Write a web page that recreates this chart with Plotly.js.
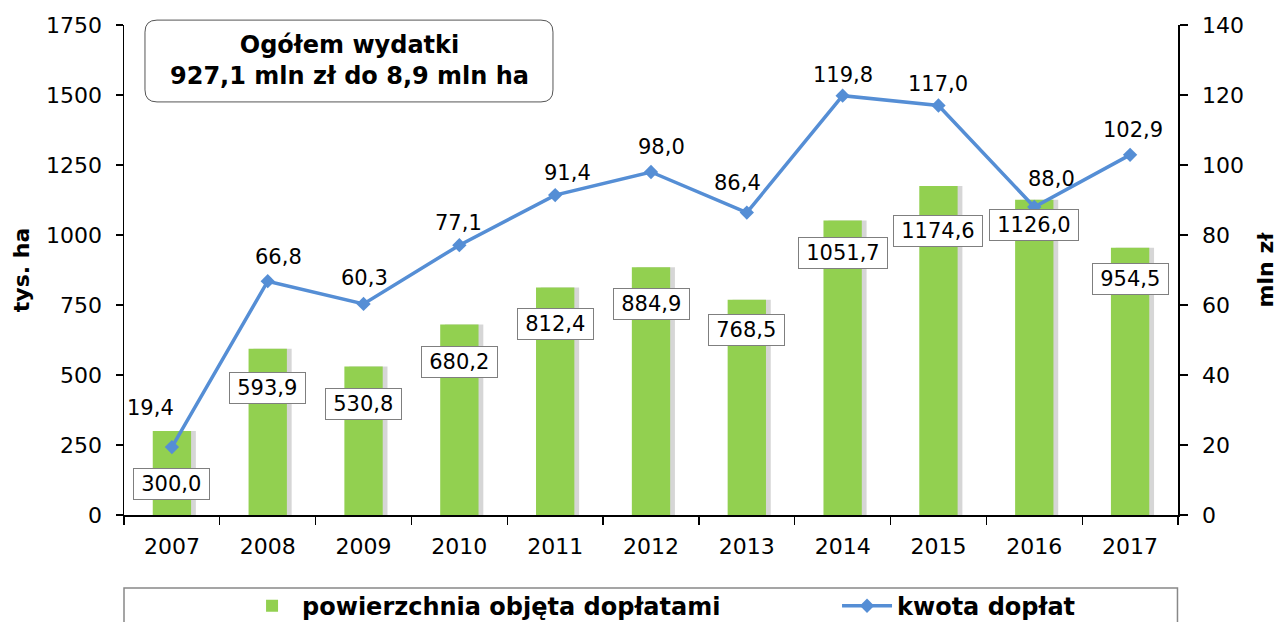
<!DOCTYPE html>
<html>
<head>
<meta charset="utf-8">
<script src="https://cdn.plot.ly/plotly-3.0.1.min.js"></script>
<style>html,body{margin:0;padding:0;background:#fff;}#chart{width:1284px;height:622px;}</style>
</head>
<body>
<div id="chart"></div>
<script>
// ---- data ----
const years = ['2007','2008','2009','2010','2011','2012','2013','2014','2015','2016','2017'];
const areaThousandHa = [300.0, 593.9, 530.8, 680.2, 812.4, 884.9, 768.5, 1051.7, 1174.6, 1126.0, 954.5];
const amountMlnZl = [19.4, 66.8, 60.3, 77.1, 91.4, 98.0, 86.4, 119.8, 117.0, 88.0, 102.9];
const seriesNames = ['powierzchnia objęta dopłatami', 'kwota dopłat'];
const boxLines = ['Ogółem wydatki', '927,1 mln zł do 8,9 mln ha'];

// ---- label placement tweaks (pixels, styling only) ----
const barLabelShift = [-53, -39, -38, -37, -36, -37, -30, -32, -45, -25, -31];
const lineLabelShiftY = [39, 24, 26, 22, 22, 25, 30, 21, 22, 28, 25];
const lineLabelShiftX = [-21, 11, 1, -1, 12, 10, -9, 0, 0, 17, 3];

const fmt = v => v.toFixed(1).replace('.', ',');
const FONT = 'DejaVu Sans, Verdana, sans-serif';
const GREEN = '#92D050';
const BLUE = '#558ED5';

const shadow = {
  type: 'bar', x: years, y: areaThousandHa, width: 0.4, offset: -0.15,
  marker: {color: 'rgba(0,0,0,0.16)', line: {width: 0}},
  hoverinfo: 'skip', showlegend: false
};
const bars = {
  type: 'bar', name: seriesNames[0], x: years, y: areaThousandHa, width: 0.4, offset: -0.2,
  marker: {color: GREEN, line: {width: 0}}, legend: 'legend'
};
const line = {
  type: 'scatter', mode: 'lines+markers', name: seriesNames[1], x: years, y: amountMlnZl, yaxis: 'y2',
  line: {color: BLUE, width: 3.5},
  marker: {symbol: 'diamond', size: 11, color: BLUE}, legend: 'legend2'
};

const annotations = [];
years.forEach((yr, i) => {
  annotations.push({
    x: i, y: areaThousandHa[i], xref: 'x', yref: 'y', text: '\u2009' + fmt(areaThousandHa[i]) + '\u2009',
    showarrow: false, yshift: barLabelShift[i],
    bgcolor: '#ffffff', bordercolor: '#7f7f7f', borderwidth: 1, borderpad: 3,
    font: {family: FONT, size: 21, color: '#000'}
  });
  annotations.push({
    x: i, y: amountMlnZl[i], xref: 'x', yref: 'y2', text: fmt(amountMlnZl[i]),
    showarrow: false, yshift: lineLabelShiftY[i], xshift: lineLabelShiftX[i],
    font: {family: FONT, size: 21, color: '#000'}
  });
});
annotations.push({
  xref: 'paper', yref: 'paper', x: 0.2135, y: 0.927, xanchor: 'center', yanchor: 'middle',
  text: '<b>' + boxLines[0] + '</b><br><b>' + boxLines[1] + '</b>', showarrow: false,
  font: {family: FONT, size: 24, color: '#000'}, align: 'center'
});

// rounded box for summary text (paper coordinates)
const bx0 = 0.0199, bx1 = 0.407, by0 = 0.843, by1 = 1.010, rx = 0.0114, ry = 0.0245;
const roundBox = `M${bx0+rx},${by1} L${bx1-rx},${by1} Q${bx1},${by1} ${bx1},${by1-ry} L${bx1},${by0+ry} Q${bx1},${by0} ${bx1-rx},${by0} L${bx0+rx},${by0} Q${bx0},${by0} ${bx0},${by0+ry} L${bx0},${by1-ry} Q${bx0},${by1} ${bx0+rx},${by1} Z`;

const legendFont = {family: FONT, size: 24, color: '#000', weight: 'bold'};

const layout = {
  width: 1284, height: 622,
  margin: {l: 124, r: 106, t: 25, b: 107, pad: 0, autoexpand: false},
  paper_bgcolor: '#fff', plot_bgcolor: 'rgba(0,0,0,0)',
  barmode: 'overlay',
  font: {family: FONT, size: 22, color: '#000'},
  xaxis: {
    type: 'category', range: [-0.5, 10.5], showgrid: false, zeroline: false,
    showline: true, linecolor: '#000', linewidth: 1.5,
    ticks: 'outside', tickson: 'boundaries', ticklen: 8, tickcolor: '#000', tickwidth: 1.2,
    ticklabelstandoff: 11, tickfont: {family: FONT, size: 22, color: '#000'}
  },
  yaxis: {
    range: [0, 1750], dtick: 250, showgrid: false, zeroline: false,
    showline: true, linecolor: '#000', linewidth: 1.5,
    ticks: 'outside', ticklen: 7, tickcolor: '#000', tickwidth: 1.2,
    ticklabelstandoff: 9, tickfont: {family: FONT, size: 22, color: '#000'},
    title: {text: '<b>tys. ha</b>', font: {family: FONT, size: 22, color: '#000'}, standoff: 10}
  },
  yaxis2: {
    overlaying: 'y', side: 'right', range: [0, 140], dtick: 20, showgrid: false, zeroline: false,
    showline: true, linecolor: '#000', linewidth: 1.5,
    ticks: 'outside', ticklen: 8, tickcolor: '#000', tickwidth: 1.2,
    ticklabelstandoff: 10, tickfont: {family: FONT, size: 22, color: '#000'},
    title: {text: '<b>mln zł</b>', font: {family: FONT, size: 22, color: '#000'}, standoff: 14}
  },
  yaxis3: {
    overlaying: 'y', side: 'right', range: [0, 140], dtick: 20, showgrid: false, zeroline: false,
    showline: false, showticklabels: false,
    ticks: 'inside', ticklen: 7, tickcolor: '#000', tickwidth: 1.2
  },
  showlegend: true,
  legend: {
    orientation: 'h', x: 0.112, y: -0.186, xanchor: 'left', yanchor: 'middle',
    xref: 'paper', yref: 'paper', bgcolor: 'rgba(0,0,0,0)', borderwidth: 0,
    itemwidth: 50, font: legendFont
  },
  legend2: {
    orientation: 'h', x: 0.6765, y: -0.186, xanchor: 'left', yanchor: 'middle',
    xref: 'paper', yref: 'paper', bgcolor: 'rgba(0,0,0,0)', borderwidth: 0,
    itemwidth: 50, font: legendFont
  },
  shapes: [
    {type: 'path', xref: 'paper', yref: 'paper', path: roundBox, line: {color: '#555', width: 1}, fillcolor: '#fff', layer: 'above'},
    {type: 'rect', xref: 'paper', yref: 'paper', x0: 0.0, x1: 0.9995, y0: -0.149, y1: -0.4, line: {color: '#888', width: 1.5}, fillcolor: 'rgba(0,0,0,0)'}
  ],
  annotations: annotations
};

Plotly.newPlot('chart', [shadow, bars, line], layout, {displayModeBar: false, staticPlot: true});
</script>
</body>
</html>
